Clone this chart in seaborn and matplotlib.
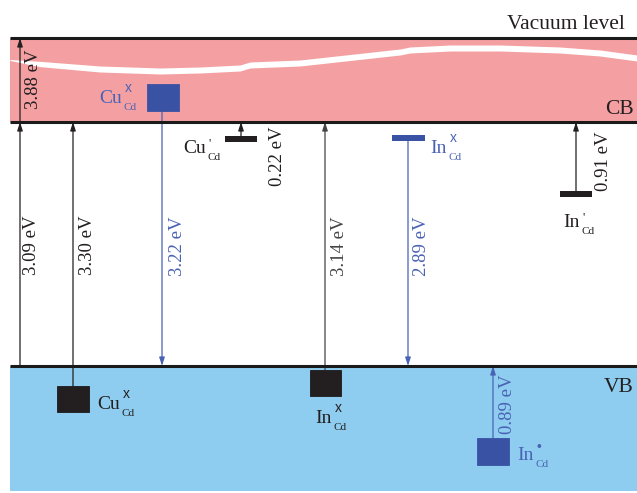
import numpy as np
import matplotlib
matplotlib.use("Agg")
import matplotlib.pyplot as plt
from matplotlib.patches import Rectangle
import seaborn as sns

sns.set_theme(style="white")
plt.rcParams["font.family"] = ["Liberation Serif", "DejaVu Serif"]

# Schematic level positions (drawing units, y grows downward)
vacuum_level = 38
cb_edge = 122
vb_edge = 366
band_left, band_right = 10, 637
vb_bottom = 491

# Wavy white line inside the conduction band
wave_x = [10, 40, 100, 160, 200, 240, 250, 300, 400, 410, 450, 500, 560, 600, 637]
wave_y = [60, 64, 69, 71, 70, 68, 65, 63, 52, 50, 48, 48, 50, 53, 58]

BLACK = "#231f20"
BLUE = "#3a52a3"
BLUE_TXT = "#4a62b4"

# Defect squares: (x0, y0, width, height, colour)
squares = [
    (147, 84, 32, 27, BLUE),    # Cu_Cd^x (blue)
    (57, 386, 32, 26, BLACK),   # Cu_Cd^x (black)
    (310, 370, 31, 26, BLACK),  # In_Cd^x (black)
    (477, 438, 32, 27, BLUE),   # In_Cd^• (blue)
]
# Defect bars: (x0, x1, y, colour)
bars = [
    (225, 257, 139, BLACK),   # Cu_Cd'
    (392, 425, 138, BLUE),    # In_Cd^x
    (560, 592, 194, BLACK),   # In_Cd'
]

# Transition arrows: (x, y_start, y_end, label, label_x, label_y, colour)
arrows = [
    (20, cb_edge, vacuum_level, "3.88 eV", 33, 79, BLACK),
    (20, vb_edge, cb_edge, "3.09 eV", 32, 245, BLACK),
    (73, 386, cb_edge, "3.30 eV", 88, 245, BLACK),
    (162, 111, vb_edge, "3.22 eV", 177, 246, BLUE_TXT),
    (241, 136, cb_edge, "0.22 eV", 277, 156, BLACK),
    (325, 370, cb_edge, "3.14 eV", 340, 246, "#444444"),
    (408, 141, vb_edge, "2.89 eV", 422, 246, BLUE_TXT),
    (576, 191, cb_edge, "0.91 eV", 604, 161, BLACK),
    (493, 438, vb_edge, "0.89 eV", 508, 404, BLUE_TXT),
]

# Defect labels: (species, charge mark, x, baseline y, colour)
labels = [
    ("Cu", "x", 99, 103, BLUE_TXT),
    ("Cu", "'", 183, 153, BLACK),
    ("In", "x", 430, 153, BLUE_TXT),
    ("In", "'", 563, 227, BLACK),
    ("Cu", "x", 97, 409, BLACK),
    ("In", "x", 315, 423, BLACK),
    ("In", "•", 517, 460, BLUE_TXT),
]
site = "Cd"

fig = plt.figure(figsize=(6.37, 4.93), dpi=100)
ax = fig.add_axes([0, 0, 1, 1])
ax.set_xlim(0, 637)
ax.set_ylim(493, 0)
ax.axis("off")

# Bands
ax.add_patch(Rectangle((band_left, vacuum_level), band_right - band_left,
                       cb_edge - vacuum_level, color="#f4a0a2", lw=0, zorder=1))
ax.add_patch(Rectangle((band_left, vb_edge), band_right - band_left,
                       vb_bottom - vb_edge, color="#8ecdef", lw=0, zorder=1))

wx = np.array(wave_x, float)
wy = np.array(wave_y, float)
half = np.where(wx < 45, 0.5 + (wx - 10) / 35 * 2.5, 3.0)
ax.fill_between(wx, wy - half, wy + half, color="white", lw=0, zorder=2)

for y in (vacuum_level, cb_edge, vb_edge):
    ax.plot([band_left, band_right], [y, y], color="#1a1a1a", lw=2.2,
            solid_capstyle="butt", zorder=5)

for x0, y0, w, h, c in squares:
    ax.add_patch(Rectangle((x0, y0), w, h, facecolor=c,
                           edgecolor="#1a1a1a" if c == BLACK else c,
                           lw=0.6, zorder=4))
for x0, x1, y, c in bars:
    ax.add_patch(Rectangle((x0, y - 3), x1 - x0, 6, facecolor=c, lw=0, zorder=4))

for x, ys, ye, txt, lx, ly, c in arrows:
    ax.annotate("", xy=(x, ye), xytext=(x, ys),
                arrowprops=dict(arrowstyle="-|>,head_length=0.5,head_width=0.16",
                                color=c, lw=0.9, mutation_scale=10,
                                shrinkA=0, shrinkB=0),
                zorder=3)
    ax.text(lx, ly, txt, rotation=90, ha="center", va="center",
            fontsize=13.5, color=c, zorder=6)

renderer = fig.canvas.get_renderer()
for species, mark, x, y, c in labels:
    t = ax.text(x, y, species, ha="left", va="baseline", fontsize=14,
                color=c, zorder=6)
    right = t.get_window_extent(renderer).x1
    ax.text(right + 2, y + 7, site, ha="left", va="baseline", fontsize=8,
            color=c, zorder=6)
    if mark == "x":
        ax.text(right + 3, y - 11, "x", ha="left", va="baseline", fontsize=10,
                family="Liberation Sans", color=c, zorder=6)
    elif mark == "'":
        ax.text(right + 3, y - 6, "'", ha="left", va="baseline", fontsize=9,
                color=c, zorder=6)
    else:
        ax.text(right + 3, y - 9, mark, ha="left", va="baseline", fontsize=10,
                family=["Liberation Sans", "DejaVu Sans"], color=c, zorder=6)

ax.text(625, 29, "Vacuum level", ha="right", va="baseline", fontsize=15.5, color=BLACK)
ax.text(634, 114, "CB", ha="right", va="baseline", fontsize=15.5, color=BLACK)
ax.text(634, 392, "VB", ha="right", va="baseline", fontsize=15.5, color=BLACK)

fig.savefig("out.png", dpi=100)
